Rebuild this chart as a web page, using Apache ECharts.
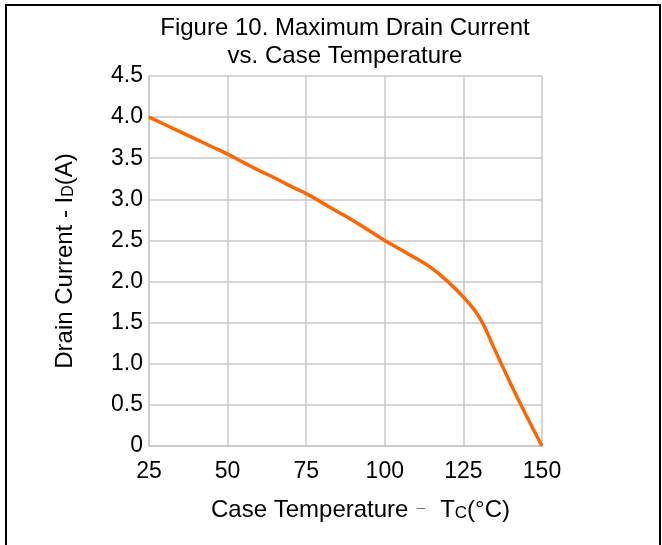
<!DOCTYPE html>
<html>
<head>
<meta charset="utf-8">
<script src="https://cdn.jsdelivr.net/npm/echarts@6/dist/echarts.min.js"></script>
<style>
html,body{margin:0;padding:0;background:#fff;}
#chart{width:662px;height:545px;}
</style>
</head>
<body>
<div id="chart"></div>
<script>
// Case temperature (°C)
var temperatures = [25,30,35,40,45,50,55,60,65,70,75,80,85,90,95,100,105,110,115,120,125,130,135,140,145,150];
// Maximum drain current I_D (A)
var drainCurrent = [4.00,3.91,3.82,3.73,3.64,3.55,3.45,3.35,3.26,3.16,3.07,2.96,2.85,2.74,2.62,2.50,2.39,2.28,2.16,2.00,1.81,1.57,1.17,0.76,0.37,0];
var xTicks = [25,50,75,100,125,150];
var yTicks = [0,0.5,1.0,1.5,2.0,2.5,3.0,3.5,4.0,4.5];

var FONT = '"Liberation Sans", Arial, sans-serif';
var chart = echarts.init(document.getElementById('chart'), null, {renderer:'canvas'});
var pts = temperatures.map(function(t,i){return [t, drainCurrent[i]];});

chart.setOption({
  animation:false,
  backgroundColor:'#ffffff',
  title:{
    text:'Figure 10. Maximum Drain Current\nvs. Case Temperature',
    left:345, top:14, textAlign:'center', padding:0,
    textStyle:{fontFamily:FONT, fontSize:24, fontWeight:'normal', color:'#000', lineHeight:28}
  },
  grid:{left:149, right:120, top:76, bottom:99},
  xAxis:{
    type:'value', min:25, max:150, interval:25,
    axisLine:{show:true, lineStyle:{color:'#c8c8c8', width:1.5}},
    axisTick:{show:false},
    splitLine:{show:true, lineStyle:{color:'#c8c8c8', width:1.5}},
    axisLabel:{fontFamily:FONT, fontSize:23, color:'#000', margin:14,
      formatter:function(v){return xTicks.indexOf(v)>=0 ? String(v) : '';}},
    name:'{t|Case Temperature}{d|  \u2013  }{t| T}{s|C}{t|(\u00B0C)}',
    nameLocation:'middle', nameGap:48,
    nameTextStyle:{padding:[0,0,0,30], rich:{
      t:{fontFamily:FONT, fontSize:24, color:'#000', lineHeight:28, verticalAlign:'bottom'},
      d:{fontFamily:FONT, fontSize:15, color:'#777', lineHeight:15, verticalAlign:'middle', padding:[0,0,1,0]},
      s:{fontFamily:FONT, fontSize:17, color:'#000', lineHeight:17, verticalAlign:'bottom'}
    }}
  },
  yAxis:{
    type:'value', min:0, max:4.5, interval:0.5,
    axisLine:{show:true, lineStyle:{color:'#c8c8c8', width:1.5}},
    axisTick:{show:false},
    splitLine:{show:true, lineStyle:{color:'#c8c8c8', width:1.5}},
    axisLabel:{fontFamily:FONT, fontSize:23, color:'#000', margin:6,
      formatter:function(v){return v===0 ? '0' : v.toFixed(1);}},
    name:'{t|Drain Current - I}{s|D}{t|(A)}',
    nameLocation:'middle', nameGap:72,
    nameTextStyle:{rich:{
      t:{fontFamily:FONT, fontSize:24, color:'#000', lineHeight:28, verticalAlign:'bottom'},
      s:{fontFamily:FONT, fontSize:16, color:'#000', lineHeight:16, verticalAlign:'bottom'}
    }}
  },
  series:[{
    type:'line', data:pts, smooth:0.5, symbol:'none',
    lineStyle:{color:'#ff6600', width:3.5}
  }],
  graphic:[{
    type:'polyline', silent:true,
    shape:{points:[[6,545],[6,5],[660,5],[660,545]]},
    style:{stroke:'#000', lineWidth:2, fill:null}
  }]
});
</script>
</body>
</html>
